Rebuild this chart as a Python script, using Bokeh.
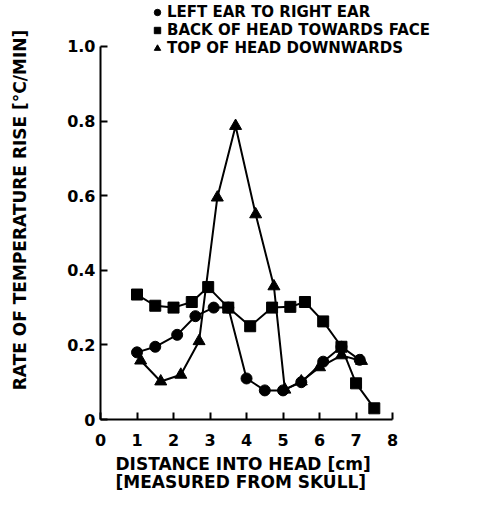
from bokeh.plotting import figure
from bokeh.models import Legend, LegendItem, FixedTicker, Range1d, Title
from bokeh.embed import file_html
from bokeh.resources import INLINE

# Back of head towards face (squares)
back_x = [1.0, 1.5, 2.0, 2.5, 2.95, 3.5, 4.1, 4.7, 5.2, 5.6, 6.1, 6.6, 7.0, 7.5]
back_y = [0.335, 0.305, 0.300, 0.315, 0.355, 0.300, 0.250, 0.300, 0.302, 0.315, 0.263, 0.195, 0.097, 0.030]

# Left ear to right ear (circles)
left_x = [1.0, 1.5, 2.1, 2.6, 3.1, 3.5, 4.0, 4.5, 5.0, 5.5, 6.1, 6.6, 7.1]
left_y = [0.180, 0.195, 0.227, 0.277, 0.300, 0.300, 0.110, 0.078, 0.078, 0.100, 0.155, 0.195, 0.160]

# Top of head downwards (triangles)
top_x = [1.1, 1.65, 2.2, 2.7, 3.2, 3.7, 4.25, 4.75, 5.05, 5.5, 6.0, 6.6, 7.15]
top_y = [0.158, 0.102, 0.120, 0.210, 0.595, 0.787, 0.550, 0.357, 0.080, 0.102, 0.140, 0.172, 0.157]

x_ticks = [0, 1, 2, 3, 4, 5, 6, 7, 8]
y_ticks = [0, 0.2, 0.4, 0.6, 0.8, 1.0]
y_tick_labels = {0: "0", 0.2: "0.2", 0.4: "0.4", 0.6: "0.6", 0.8: "0.8", 1.0: "1.0"}

FONT = "DejaVu Sans"

# frame extends above 1.0 and right of 8 so the legend (drawn inside the frame) has room
p = figure(width=491, height=505, output_backend="svg", toolbar_location=None,
           x_range=Range1d(0, 10.71), y_range=Range1d(0, 1.1233),
           min_border_left=100, min_border_right=0, min_border_top=0, min_border_bottom=86)
p.outline_line_color = None
p.grid.visible = False
p.background_fill_color = "white"
p.border_fill_color = "white"

r_left = p.line(left_x, left_y, line_color="black", line_width=2)
s_left = p.scatter(left_x, left_y, marker="circle", size=11, fill_color="black", line_color="black")
r_back = p.line(back_x, back_y, line_color="black", line_width=2)
s_back = p.scatter(back_x, back_y, marker="square", size=11, fill_color="black", line_color="black")
r_top = p.line(top_x, top_y, line_color="black", line_width=2)
s_top = p.scatter(top_x, top_y, marker="triangle", size=12, fill_color="black", line_color="black")

for ax in (p.xaxis[0], p.yaxis[0]):
    ax.axis_line_color = "black"
    ax.axis_line_width = 2
    ax.major_tick_line_color = "black"
    ax.major_tick_line_width = 2
    ax.major_tick_in = 7
    ax.major_tick_out = 0
    ax.minor_tick_line_color = None
    ax.major_label_text_font = FONT
    ax.major_label_text_font_size = "16px"
    ax.major_label_text_font_style = "bold"
    ax.major_label_text_color = "black"
    ax.axis_label_text_font = FONT
    ax.axis_label_text_font_style = "bold"
    ax.axis_label_text_color = "black"

p.xaxis[0].ticker = FixedTicker(ticks=x_ticks)
p.xaxis[0].bounds = (0, 8)
p.yaxis[0].ticker = FixedTicker(ticks=y_ticks)
p.yaxis[0].bounds = (0, 1.0)
p.yaxis[0].major_label_overrides = y_tick_labels
p.xaxis[0].major_label_standoff = 14
p.yaxis[0].major_label_standoff = 5

p.yaxis[0].axis_label = "RATE OF TEMPERATURE RISE [°C/MIN]"
p.yaxis[0].axis_label_text_font_size = "17px"
p.yaxis[0].axis_label_standoff = 34

xlab = Title(text="DISTANCE INTO HEAD [cm]\n[MEASURED FROM SKULL]", align="left", offset=15,
             text_font=FONT, text_font_size="17px", text_font_style="bold",
             text_color="black", text_line_height=0.9, standoff=6)
p.add_layout(xlab, "below")

legend = Legend(items=[
    LegendItem(label="LEFT EAR TO RIGHT EAR", renderers=[s_left]),
    LegendItem(label="BACK OF HEAD TOWARDS FACE", renderers=[s_back]),
    LegendItem(label="TOP OF HEAD DOWNWARDS", renderers=[s_top]),
], location=(47, 362), orientation="vertical")
legend.background_fill_alpha = 0
legend.border_line_color = None
legend.padding = 0
legend.spacing = 0
legend.margin = 0
legend.label_height = 16
legend.glyph_height = 16
legend.glyph_width = 20
legend.label_standoff = 0
legend.label_text_font = FONT
legend.label_text_font_size = "15px"
legend.label_text_line_height = 1.0
legend.label_text_font_style = "bold"
legend.label_text_color = "black"
p.add_layout(legend, "center")

open("out.html", "w").write(file_html(p, INLINE))
